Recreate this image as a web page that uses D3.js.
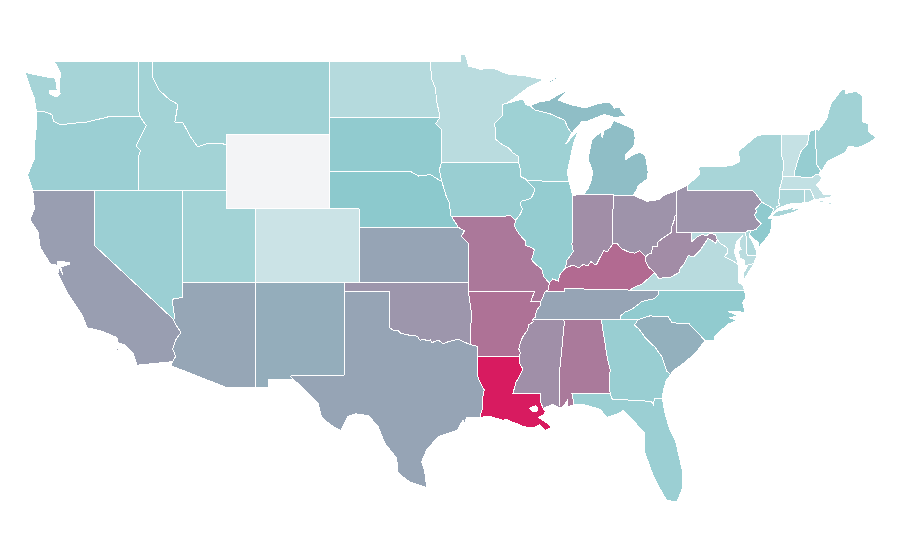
<!DOCTYPE html>
<html>
<head>
<meta charset="utf-8">
<style>
html,body{margin:0;padding:0;background:#fff;}
svg{display:block;}
path.state{stroke:#fff;stroke-width:1;stroke-linejoin:round;fill-rule:evenodd;shape-rendering:crispEdges;}
</style>
<script src="https://cdnjs.cloudflare.com/ajax/libs/d3/7.8.5/d3.min.js"></script>
</head>
<body>
<svg id="map" width="900" height="560"></svg>
<script>
// ---------- values per state ----------
const stateNames = ["AL","AR","AZ","CA","CO","CT","DE","FL","GA","IA","ID","IL","IN","KS","KY","LA","MA","MD","ME","MI","MN","MO","MS","MT","NC","ND","NE","NH","NJ","NM","NV","NY","OH","OK","OR","PA","RI","SC","SD","TN","TX","UT","VA","VT","WA","WI","WV","WY"];
const stateValues = [66.7,69.5,51.5,54.1,15.5,27,26,34,35,35,31,37,59.7,52,72.3,100,19,22,32,43.6,22,67.4,59.4,32,38,24,40,36,39,49,34,29,58,56.9,34,57.6,24,48,38,52,52,31,23,18,30,33,60.4,0];
const colorDomain = [0,40,52,100];
const colorRange = ["#f3f4f6","#8cc9cd","#96a4b5","#d81b60"];

// ---------- geography: shared borders in [lon, lat] ----------
const MN_WI=[[-92.01,46.71],[-92.29,46.66],[-92.29,46.07],[-92.85,45.6],[-92.88,45.57],[-92.75,45.3],[-92.76,44.85],[-92.75,44.75],[-92.3,44.46],[-91.9,44.3],[-91.6,44.03],[-91.25,43.85],[-91.22,43.5]];
const IA_WI=[[-91.22,43.5],[-91.15,43.3],[-91.05,42.95],[-91.1,42.75],[-90.72,42.6],[-90.64,42.51]];
const IA_IL=[[-90.64,42.51],[-90.42,42.33],[-90.16,42.1],[-90.15,41.93],[-90.34,41.6],[-90.6,41.5],[-91.05,41.4],[-91.1,41.2],[-90.95,41],[-91.1,40.7],[-91.42,40.38]];
const MO_IL=[[-91.42,40.38],[-91.5,40.1],[-91.4,39.9],[-91.1,39.55],[-90.75,39.25],[-90.72,39],[-90.5,38.96],[-90.15,38.8],[-90.2,38.6],[-90.35,38.25],[-90,37.95],[-89.65,37.75],[-89.5,37.32],[-89.13,36.98]];
const MO_KY=[[-89.13,36.98],[-89.2,36.6],[-89.42,36.5]];
const MO_TN=[[-89.42,36.5],[-89.55,36.25],[-89.7,36]];
const AR_TN=[[-89.7,36],[-89.7,35.8],[-89.95,35.55],[-90.1,35.2],[-90.07,35.13],[-90.3,35]];
const AR_MS=[[-90.3,35],[-90.2,34.9],[-90.55,34.7],[-90.6,34.45],[-90.95,34.05],[-91.1,33.75],[-91.2,33.4],[-91.1,33.2],[-91.17,33]];
const LA_MS=[[-91.17,33],[-91.12,32.6],[-90.92,32.32],[-91.15,31.95],[-91.4,31.6],[-91.6,31]];
const IL_KY=[[-89.13,36.98],[-88.9,37.2],[-88.5,37.08],[-88.45,37.4],[-88.03,37.8]];
const IN_KY=[[-88.03,37.8],[-87.7,37.9],[-87.55,37.95],[-87.1,37.8],[-86.85,37.98],[-86.5,37.92],[-86.3,38.15],[-86.05,37.97],[-85.9,38.02],[-85.75,38.27],[-85.42,38.73],[-85.18,38.69],[-84.82,39.1]];
const OH_KY=[[-84.82,39.1],[-84.5,39.1],[-84.25,38.85],[-83.85,38.7],[-83.65,38.63],[-83.3,38.6],[-83,38.73],[-82.85,38.6],[-82.59,38.41]];
const OH_WV=[[-82.59,38.41],[-82.3,38.6],[-82.2,38.6],[-82.1,38.95],[-81.78,38.95],[-81.75,39.2],[-81.45,39.4],[-80.87,39.7],[-80.82,40],[-80.65,40.4],[-80.6,40.62],[-80.52,40.64]];
const IL_IN=[[-87.53,41.71],[-87.53,39.35],[-87.6,39.1],[-87.5,38.7],[-87.75,38.4],[-87.95,38.2],[-88.03,37.8]];
const KY_TN=[[-89.42,36.5],[-88.07,36.5],[-88.07,36.68],[-86.5,36.65],[-85.3,36.62],[-83.68,36.6]];
const KY_VA=[[-83.68,36.6],[-83.1,36.85],[-82.87,36.9],[-82.3,37.3],[-81.97,37.54]];
const KY_WV=[[-81.97,37.54],[-82.4,37.85],[-82.6,38.17],[-82.59,38.41]];
const TN_NC=[[-81.68,36.59],[-81.7,36.35],[-82.05,36.12],[-82.6,36.03],[-82.9,35.95],[-83.25,35.72],[-83.5,35.57],[-84,35.4],[-84.3,35.2],[-84.32,34.99]];
const VA_WV=[[-81.97,37.54],[-81.68,37.2],[-81.3,37.3],[-80.9,37.3],[-80.3,37.55],[-80.3,37.7],[-80,38],[-79.7,38.45],[-79.3,38.42],[-78.87,38.77],[-78.35,39.4],[-77.83,39.14],[-77.72,39.32]];
const MD_WV=[[-79.48,39.72],[-79.48,39.2],[-79.1,39.47],[-78.75,39.6],[-78.45,39.55],[-78.2,39.68],[-77.85,39.6],[-77.72,39.32]];
const MD_VA=[[-77.72,39.32],[-77.5,39.1],[-77.25,39],[-77.04,38.85],[-77.05,38.6],[-77.25,38.4],[-77,38.3],[-76.6,38.15],[-76.3,37.95]];
const DE_MD=[[-75.05,38.45],[-75.7,38.46],[-75.79,39.72]];
const NJ_PA=[[-74.7,41.36],[-75.13,40.98],[-75.05,40.85],[-75.2,40.68],[-75.07,40.45],[-74.75,40.2],[-75.1,39.88],[-75.42,39.8]];
const NY_PA=[[-79.76,42.27],[-79.76,42],[-75.35,42],[-75.07,41.77],[-74.7,41.36]];
const NY_VT=[[-73.34,45.01],[-73.35,44.5],[-73.4,44],[-73.25,43.6],[-73.27,42.75]];
const NY_MA=[[-73.27,42.75],[-73.5,42.05]];
const NY_CT=[[-73.5,42.05],[-73.55,41.3],[-73.48,41.2],[-73.73,41.1],[-73.65,41]];
const VT_NH=[[-71.5,45.01],[-71.6,44.5],[-72.05,44.1],[-72.2,43.75],[-72.45,43.1],[-72.46,42.73]];
const MA_N=[[-73.27,42.75],[-72.46,42.73],[-71.3,42.7],[-71,42.87],[-70.82,42.87]];
const NH_ME=[[-71.08,45.3],[-70.98,43.4],[-70.7,43.07],[-70.82,42.87]];
const RI_MA=[[-71.8,42.02],[-71.38,42.02],[-71.33,41.9],[-71.2,41.67],[-71.12,41.5]];
const MI_WI=[[-87.6,45.1],[-87.85,45.35],[-88.1,45.8],[-88.7,46],[-89.1,46.15],[-90.1,46.34],[-90.42,46.57]];
const ND_MN=[[-97.23,49],[-97.1,48],[-96.85,47.5],[-96.8,46.9],[-96.56,46],[-96.56,45.94]];
const SD_MN=[[-96.56,45.94],[-96.85,45.6],[-96.45,45.3],[-96.45,43.5]];
const IA_SD=[[-96.45,43.5],[-96.6,43.1],[-96.44,42.49]];
const NE_SD=[[-104.05,43],[-98.5,43],[-98,42.77],[-97.2,42.85],[-96.7,42.6],[-96.44,42.49]];
const IA_NE=[[-96.44,42.49],[-96.25,42],[-96.1,41.6],[-95.9,41.3],[-95.85,40.67],[-95.77,40.585]];
const MO_NE=[[-95.77,40.585],[-95.31,40]];
const KS_MO=[[-95.31,40],[-94.9,39.8],[-95.1,39.5],[-94.61,39.11],[-94.62,37]];
const OK_TX=[[-100,36.5],[-100,34.56],[-99.7,34.42],[-99.4,34.4],[-99.2,34.25],[-98.9,34.2],[-98.6,34.15],[-98.3,34.12],[-98.1,34.1],[-97.9,33.88],[-97.7,33.95],[-97.4,33.85],[-97.2,33.9],[-97.1,33.75],[-96.8,33.85],[-96.6,33.85],[-96.35,33.7],[-96,33.8],[-95.5,33.9],[-95.2,33.9],[-94.8,33.75],[-94.48,33.64]];
const LA_TX=[[-94.04,33.02],[-94.04,32],[-93.8,31.55],[-93.55,31.2],[-93.7,30.6],[-93.7,30.1],[-93.85,29.7]];
const AR_OK=[[-94.62,36.5],[-94.43,35.4],[-94.48,33.64]];
const AZ_CA=[[-114.63,35],[-114.6,34.87],[-114.14,34.3],[-114.5,33.9],[-114.7,33.4],[-114.5,33],[-114.72,32.72]];
const AZ_NV=[[-114.04,37],[-114.04,36.2],[-114.75,36.1],[-114.57,35.15],[-114.63,35]];
const ID_MT=[[-116.05,49],[-116.05,48.1],[-115.6,47.4],[-114.9,46.9],[-114.35,46.65],[-114.55,45.7],[-114,45.65],[-113.5,44.9],[-113,44.35],[-112.3,44.55],[-111.6,44.55],[-111.05,44.48]];
const ID_OR=[[-116.92,46],[-116.5,45.5],[-116.9,44.85],[-117.2,44.4],[-116.9,44.15],[-117.03,43.8],[-117.03,42]];
const OR_WA=[[-123.95,46.25],[-123.4,46.25],[-122.9,46.1],[-122.8,45.75],[-122.3,45.55],[-121.2,45.65],[-120.5,45.7],[-119.3,45.93],[-118.98,46],[-116.92,46]];
const GA_SC=[[-83.1,35],[-83.35,34.7],[-83.05,34.5],[-82.6,34],[-81.95,33.5],[-81.5,33],[-81.15,32.2],[-80.88,32.03]];
const NC_SC=[[-83.1,35],[-82.3,35.2],[-81.05,35.15],[-80.8,34.82],[-79.67,34.8],[-78.55,33.86]];
const FL_GA=[[-85,31],[-84.86,30.7],[-82.2,30.57],[-82.05,30.37],[-82,30.75],[-81.45,30.72]];
const NC_VA=[[-81.68,36.59],[-75.87,36.55]];
const rev=a=>a.slice().reverse();
const j=(...p)=>p.flat();

const geometry={
 WA:[j([[-124.73,48.38],[-123.15,48.12],[-122.75,48.12],[-122.6,47.85],[-122.55,47.4],[-123.1,47.42],[-123.1,47.25],[-122.6,47.05],[-122.35,47.25],[-122.4,47.9],[-122.3,48.3],[-122.75,49],[-117.03,49],[-117.04,46.42]],rev(OR_WA),[[-124.05,46.7],[-124.1,47],[-124.4,47.6]])],
 OR:[j(OR_WA,ID_OR,[[-124.2,42],[-124.55,42.84],[-124.1,43.7],[-124.05,44.7],[-123.95,45.5]])],
 CA:[j([[-124.2,42],[-120,42],[-120,39]],AZ_CA,[[-117.12,32.53],[-117.4,33.2],[-117.9,33.6],[-118.4,33.75],[-118.5,34.03],[-119.6,34.4],[-120.5,34.55],[-120.85,35.25],[-121.9,36.5],[-122.2,37],[-122.5,37.5],[-122.4,37.8],[-122.15,37.4],[-122.3,37.85],[-121.7,38],[-121.7,38.1],[-122.5,38.15],[-122.55,37.95],[-123,38],[-123.7,38.9],[-123.85,39.75],[-124.4,40.4],[-124.1,41]]),[[-119.9,34.05],[-119.6,34.05],[-119.6,33.95],[-119.9,33.95]],[[-119.55,34.05],[-119.4,34.05],[-119.4,33.98],[-119.55,33.98]],[[-118.55,33.45],[-118.35,33.4],[-118.35,33.32],[-118.55,33.38]]],
 NV:[j([[-120,42],[-114.04,42]],AZ_NV,[[-120,39]])],
 ID:[j([[-117.03,49]],ID_MT,[[-111.05,42]],rev(ID_OR),[[-117.05,46.42]])],
 MT:[j(ID_MT.slice(0,1),[[-104.05,49],[-104.05,45],[-111.05,45]],rev(ID_MT))],
 WY:[[[-111.05,45],[-104.05,45],[-104.05,41],[-111.05,41]]],
 UT:[[[-114.04,42],[-111.05,42],[-111.05,41],[-109.05,41],[-109.05,37],[-114.04,37]]],
 CO:[[[-109.05,41],[-102.05,41],[-102.04,37],[-109.05,37]]],
 AZ:[j(AZ_NV.slice(0,1),[[-109.05,37],[-109.05,31.33],[-111.07,31.33],[-114.81,32.5]],rev(AZ_CA),rev(AZ_NV))],
 NM:[[[-109.05,37],[-103,37],[-103.04,36.5],[-103.06,32],[-106.62,32],[-106.53,31.78],[-108.2,31.78],[-108.2,31.33],[-109.05,31.33]]],
 ND:[j([[-104.05,49]],ND_MN,[[-104.05,45.94]])],
 SD:[j([[-104.05,45.94]],SD_MN,IA_SD,rev(NE_SD))],
 NE:[j(NE_SD,IA_NE,MO_NE,[[-102.05,40],[-102.05,41],[-104.05,41]])],
 KS:[j([[-102.05,40]],KS_MO,[[-102.04,37]])],
 OK:[j([[-103,37],[-94.62,37]],AR_OK,rev(OK_TX),[[-103.04,36.5]])],
 TX:[j([[-103.04,36.5]],OK_TX,[[-94.04,33.55]],LA_TX,[[-94.75,29.7],[-94.85,29.4],[-95,29.55],[-95.4,29],[-96.7,28.65],[-97.45,27.95],[-97.8,27.3],[-97.6,26.85],[-97.45,25.9],[-98.6,26.2],[-99.4,26.7],[-99.5,27.5],[-100.3,28.3],[-100.75,29.2],[-101.4,29.8],[-102.3,29.9],[-102.8,29.75],[-103.3,29],[-104,29.3],[-104.6,29.75],[-104.85,30.5],[-106,31.4],[-106.7,31.9],[-106.62,32],[-103.06,32]])],
 MN:[j([[-97.23,49],[-95.15,49],[-95.15,49.38],[-94.82,49.32],[-94.6,48.72],[-93.8,48.55],[-92.95,48.62],[-92,48.3],[-90.8,48.2],[-89.5,48],[-90.5,47.6]],MN_WI,[[-96.45,43.5]],rev(SD_MN),rev(ND_MN))],
 IA:[j([[-96.45,43.5]],IA_WI,IA_IL,[[-91.73,40.61]],rev(IA_NE),rev(IA_SD))],
 MO:[j([[-95.77,40.585],[-91.73,40.61]],MO_IL,MO_KY,MO_TN,[[-90.38,35.99],[-90.15,36.5],[-94.62,36.5]],rev(KS_MO))],
 AR:[j([[-94.62,36.5],[-90.15,36.5],[-90.38,35.99]],AR_TN,AR_MS,[[-94.04,33.02],[-94.04,33.55]],rev(AR_OK))],
 LA:[j(LA_MS,[[-89.73,31],[-89.75,30.6],[-89.55,30.2],[-89.4,30.05],[-89.5,29.85],[-89.85,29.7],[-89.2,29.35],[-89,29.15],[-89.4,29],[-89.8,29.3],[-90.2,29.15],[-90.9,29.2],[-91.3,29.35],[-91.8,29.5],[-92,29.6],[-92.3,29.55],[-93.2,29.77]],rev(LA_TX)),[[-90.45,30.2],[-90.05,30.35],[-89.9,30.2],[-89.95,30.05],[-90.3,30.03]]],
 WI:[j([[-92.01,46.71],[-90.9,46.95],[-90.75,46.65]],rev(MI_WI),[[-88,44.53],[-87.15,45.25],[-87.5,44.5],[-87.7,43.75],[-87.9,43],[-87.8,42.49]],rev(IA_WI),rev(MN_WI))],
 IL:[j(rev(IA_IL).slice(-1),[[-87.8,42.49]],IL_IN,rev(IL_KY),rev(MO_IL),rev(IA_IL))],
 IN:[j([[-87.2,41.76],[-84.8,41.76],[-84.8,41.7]],rev(OH_KY).slice(-1),rev(IN_KY),rev(IL_IN))],
 OH:[j([[-80.52,41.98],[-81.3,41.75],[-81.7,41.5],[-82.5,41.4],[-82.75,41.5],[-83.45,41.73],[-84.8,41.7]],OH_KY,OH_WV)],
 MI:[[[-83.45,41.73],[-84.8,41.7],[-84.8,41.76],[-86.82,41.76],[-86.5,42.1],[-86.25,42.6],[-86.2,43],[-86.5,43.7],[-86.4,44.1],[-86.25,44.7],[-86.05,44.9],[-85.6,45.15],[-85.55,44.85],[-85.4,45.25],[-85,45.4],[-84.75,45.78],[-84.2,45.6],[-83.4,45.3],[-83.3,44.85],[-83.4,44.35],[-83.95,43.95],[-83.95,43.65],[-83.4,43.95],[-82.95,44.07],[-82.6,43.85],[-82.42,43],[-82.5,42.6],[-83.1,42.25],[-83.2,42]],
   j([[-89.8,46.8],[-89.2,46.85],[-88.55,47.16],[-87.87,47.42],[-88.2,47.12],[-88.55,46.89],[-87.6,46.62],[-86.7,46.46],[-85.9,46.68],[-85.5,46.73],[-85,46.75],[-84.7,46.45],[-84.35,46.5],[-84.15,46.2],[-83.9,46],[-84.7,45.95],[-85.4,46.1],[-85.9,45.95],[-86.5,45.75],[-86.95,45.7],[-87.2,45.45]],MI_WI),
   [[-89.2,47.85],[-88.6,48.15],[-88.5,48.1],[-89.1,47.82]]],
 KY:[j(IL_KY,IN_KY,OH_KY,rev(KY_WV),rev(KY_VA),rev(KY_TN),rev(MO_KY))],
 TN:[j(KY_TN,[[-81.68,36.59]],TN_NC,[[-85.6,34.98],[-88.2,35]],rev(AR_TN),rev(MO_TN))],
 MS:[j([[-90.3,35],[-88.2,35],[-88.1,34.9],[-88.47,31.9],[-88.4,30.2],[-88.9,30.4],[-89.55,30.2],[-89.75,30.6],[-89.73,31]],rev(LA_MS),rev(AR_MS))],
 AL:[[[-88.2,35],[-85.6,34.98],[-85.18,32.87],[-85,32.3],[-85.05,31.55],[-85,31],[-87.6,31],[-87.45,30.4],[-87.9,30.25],[-87.9,30.65],[-88.1,30.35],[-88.4,30.2],[-88.47,31.9],[-88.1,34.9]]],
 GA:[j([[-85.6,34.98],[-84.32,34.99]],GA_SC,[[-81.2,31.7],[-81.4,31.1],[-81.45,30.72]],rev(FL_GA),[[-85.05,31.55],[-85,32.3],[-85.18,32.87]])],
 FL:[j([[-87.6,31]],FL_GA,[[-81.3,30],[-80.95,29.05],[-80.55,28.4],[-80.1,26.85],[-80.12,25.8],[-80.45,25.15],[-81.15,25.2],[-81.8,26.1],[-82.1,26.6],[-82.7,27.9],[-82.65,28.85],[-83.4,29.5],[-84.1,30.1],[-84.35,29.95],[-85.2,29.7],[-85.7,30.15],[-86.8,30.4],[-87.45,30.4]])],
 SC:[j(NC_SC,[[-79.2,33.2],[-79.9,32.7],[-80.7,32.25]],rev(GA_SC))],
 NC:[j(rev(TN_NC),NC_VA,[[-75.8,36.2],[-76,35.9],[-75.85,35.4],[-77,35.45],[-76.3,35.2],[-76.9,35.1],[-76.4,34.95],[-77,34.75],[-77.9,34.1],[-77.95,33.85]],rev(NC_SC))],
 VA:[j(KY_VA,VA_WV,MD_VA,[[-76.3,37.5],[-76.3,37],[-76,36.9]],rev(NC_VA)),[[-75.65,37.95],[-75.24,38.03],[-75.95,37.12],[-75.95,37.5]]],
 WV:[j([[-80.52,39.72]],MD_WV,rev(VA_WV),KY_WV,OH_WV)],
 MD:[j([[-79.48,39.72]],rev(DE_MD),[[-75.24,38.03],[-75.65,37.95],[-75.85,37.95],[-75.9,38.2],[-76.2,38.35],[-76.3,38.7],[-76.1,38.8],[-76.25,39],[-76.2,39.3],[-76,39.55],[-76.1,39.5],[-76.4,39.25],[-76.5,39],[-76.55,38.6],[-76.42,38.3],[-76.32,38.04]],rev(MD_VA),rev(MD_WV))],
 DE:[j([[-75.79,39.72],[-75.6,39.84],[-75.42,39.8],[-75.55,39.5],[-75.4,39.3],[-75.1,38.8]],DE_MD)],
 PA:[j([[-80.52,41.98]],NY_PA,NJ_PA,[[-75.6,39.84],[-75.79,39.72],[-79.48,39.72],[-80.52,39.72],[-80.52,40.64]])],
 NJ:[j(NJ_PA,[[-75.55,39.62],[-75.4,39.45],[-74.95,39.2],[-74.9,38.93],[-74.4,39.4],[-74.1,39.75],[-74,40.45],[-74.26,40.5],[-74.03,40.7],[-73.9,41]])],
 NY:[j(rev(NY_PA),[[-78.92,42.85],[-78.9,43],[-79.05,43.26],[-77.5,43.27],[-76.7,43.35],[-76.2,43.55],[-76.3,44.1],[-75.8,44.45],[-75,44.97],[-74.7,45]],NY_VT,NY_MA,NY_CT,[[-73.9,40.8],[-74.03,40.7],[-73.9,41]]),[[-74.03,40.6],[-73.75,40.85],[-73,40.97],[-72.3,41.15],[-72.6,40.97],[-71.87,41.07],[-72.5,40.82],[-73.5,40.6]]],
 CT:[j(NY_CT,[[-72.9,41.25],[-71.86,41.32],[-71.8,41.42],[-71.8,42.02]])],
 RI:[j(RI_MA,[[-71.5,41.37],[-71.86,41.32],[-71.8,41.42]])],
 MA:[j(NY_MA.slice(-1),NY_MA.slice(0,1),MA_N,[[-70.6,42.65],[-71,42.3],[-70.65,41.95],[-70.5,41.78],[-70,41.8],[-70.05,42.05],[-70.25,42.07],[-69.95,41.95],[-69.97,41.65],[-70.65,41.55]],rev(RI_MA)),[[-70.8,41.45],[-70.5,41.45],[-70.55,41.35],[-70.8,41.35]],[[-70.2,41.32],[-70,41.32],[-70,41.24],[-70.2,41.24]]],
 VT:[j(NY_VT.slice(0,1),VT_NH,rev(MA_N.slice(0,2)),rev(NY_VT).slice(1))],
 NH:[j(VT_NH.slice(0,1),[[-71.4,45.2]],NH_ME,rev(MA_N.slice(1)),rev(VT_NH))],
 ME:[j(NH_ME,[[-70.6,43.1],[-70.2,43.6],[-69.8,43.75],[-69.05,44.05],[-68.8,44.4],[-68.2,44.3],[-67.6,44.5],[-66.95,44.83],[-67.45,45.2],[-67.45,45.6],[-67.84,45.7],[-67.84,47.1],[-68.3,47.35],[-69,47.25],[-69.05,47.43],[-69.27,47.46],[-70,46.7],[-70.2,46.2],[-70.25,45.95],[-70.4,45.75],[-70.85,45.25]])]
};

// ---------- drawing ----------
const lonScale=d3.scaleLinear().domain([-124.73,-66.95]).range([25,876]);
const latScale=d3.scaleLinear().domain([49,25]).range([61,504.3]);
const projection=d3.geoTransform({point(x,y){this.stream.point(lonScale(x),latScale(y));}});
const path=d3.geoPath(projection);
const color=d3.scaleLinear().domain(colorDomain).range(colorRange);
const valueOf=new Map(stateNames.map((n,i)=>[n,stateValues[i]]));
const closed=r=>r.concat([r[0]]);
const features=stateNames.map(n=>({type:"Feature",id:n,geometry:{type:"MultiPolygon",coordinates:geometry[n].map(r=>[closed(r)])}}));

d3.select("#map").selectAll("path.state").data(features).join("path")
  .attr("class","state")
  .attr("d",path)
  .attr("fill",d=>color(valueOf.get(d.id)));
</script>
</body>
</html>
